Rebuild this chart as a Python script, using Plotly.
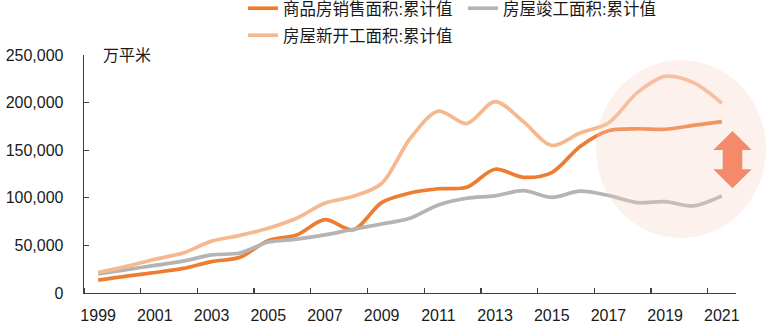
import plotly.graph_objects as go

years = list(range(1999, 2022))
sales = [13600, 17800, 21500, 25800, 33000, 37500, 55000, 61000, 77000, 66500, 95000,
         105000, 109500, 111000, 130000, 121500, 126500, 154000, 170500, 172500, 172000, 176000, 180000]
starts = [21500, 28000, 35500, 42000, 54500, 60500, 68000, 78500, 94500, 101500, 115000,
          162000, 191000, 178000, 201000, 180000, 155000, 168000, 178500, 210000, 227500, 221000, 199500]
completed = [20000, 24500, 29000, 33500, 40000, 42000, 53500, 56500, 61000, 67000, 72500,
             78500, 92500, 99500, 102000, 107500, 100500, 107000, 102500, 95000, 96000, 91500, 102000]

names = ["商品房销售面积:累计值", "房屋竣工面积:累计值", "房屋新开工面积:累计值"]
colors = ["#ED7D31", "#B4B4B4", "#F6B88F"]
legends = ["legend", "legend", "legend2"]
series = [sales, completed, starts]

y_ticks = [0, 50000, 100000, 150000, 200000, 250000]
x_ticks = list(range(1999, 2022, 2))

W, H = 778, 330
L, R, T, B = 84, 42, 55, 37
pw, ph = W - L - R, H - T - B

def px(x):
    return (x - L) / pw

def py(y):
    return (H - B - y) / ph

fig = go.Figure()
for n, c, s, lg in zip(names, colors, series, legends):
    fig.add_trace(go.Scatter(x=years, y=s, name=n, mode="lines", legend=lg,
                             line=dict(color=c, width=3.7, shape="spline", smoothing=0.9)))

FONT = "Liberation Sans, Noto Sans CJK SC, sans-serif"

# highlight circle
fig.add_shape(type="circle", xref="paper", yref="paper",
              x0=px(596), x1=px(766), y0=py(238), y1=py(60),
              fillcolor="rgba(247,210,198,0.3)", line=dict(width=0), layer="above")

# double-headed arrow
pts = [(732.5, 131), (751.7, 150), (742.3, 150), (742.3, 169.3), (751.7, 169.3),
       (732.5, 188.3), (713.3, 169.3), (722.7, 169.3), (722.7, 150), (713.3, 150)]
path = "M " + " L ".join(f"{px(a):.5f},{py(b):.5f}" for a, b in pts) + " Z"
fig.add_shape(type="path", xref="paper", yref="paper", path=path,
              fillcolor="#F4896B", line=dict(width=0), layer="above")

fig.add_annotation(text="万平米", xref="paper", yref="y", x=px(101), y=250000,
                   xanchor="left", yanchor="middle", showarrow=False,
                   font=dict(size=16, color="#1a1a1a", family=FONT))

leg_common = dict(orientation="h", xanchor="left", yanchor="middle",
                  entrywidth=175, entrywidthmode="pixels",
                  font=dict(size=16.5, color="#1a1a1a", family=FONT),
                  bgcolor="rgba(0,0,0,0)", itemwidth=30, traceorder="normal")

fig.update_layout(
    width=W, height=H, margin=dict(l=L, r=R, t=T, b=B, autoexpand=False),
    paper_bgcolor="white", plot_bgcolor="white",
    font=dict(family=FONT, size=16, color="#1a1a1a"),
    showlegend=True,
    legend=dict(x=px(243), y=py(8.5), **leg_common),
    legend2=dict(x=px(243), y=py(35.5), **leg_common),
    hovermode=False,
)
fig.update_xaxes(range=[1998.5, 2021.5], tickvals=x_ticks, ticktext=[str(v) for v in x_ticks],
                 ticks="", showgrid=False, zeroline=False, showline=True,
                 linecolor="#404040", linewidth=1.3, ticklabelstandoff=7,
                 minor=dict(tick0=1998.5, dtick=2, ticks="inside", ticklen=5,
                            tickcolor="#404040", tickwidth=1.3, showgrid=False),
                 tickfont=dict(size=16, family=FONT, color="#1a1a1a"))
fig.update_yaxes(range=[0, 250000], tickvals=y_ticks, tickformat=",d",
                 ticks="inside", ticklen=5, tickcolor="#404040", tickwidth=1.3,
                 showgrid=False, zeroline=False, showline=True,
                 linecolor="#404040", linewidth=1.3, ticklabelstandoff=16,
                 tickfont=dict(size=16, family=FONT, color="#1a1a1a"))

fig.write_html("out.html", config=dict(displayModeBar=False, staticPlot=True))
